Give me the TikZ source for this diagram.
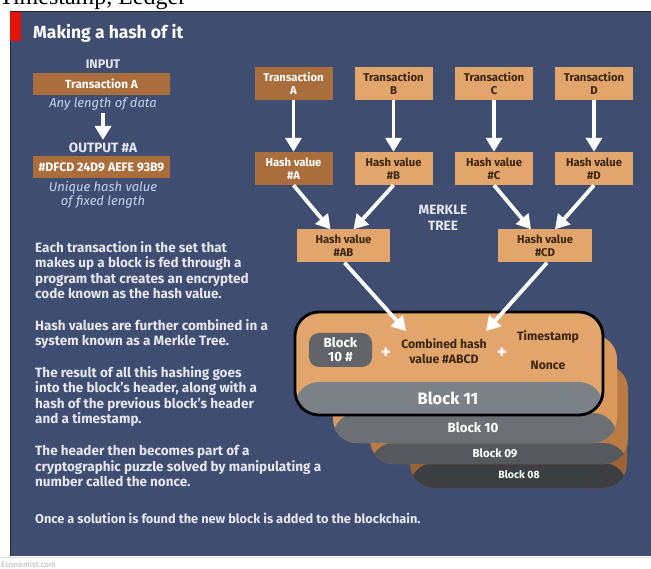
\documentclass[tikz,border=0pt]{standalone}
\usepackage{fontspec}
\setmainfont{Fira Sans}
\newfontfamily\headserif{Liberation Serif}
\usetikzlibrary{arrows.meta}
\definecolor{panel}{HTML}{3F4D70}
\definecolor{boxtan}{HTML}{E2A66C}
\definecolor{boxbrown}{HTML}{A96E3B}
\definecolor{boxink}{HTML}{3B2410}
\definecolor{paletext}{HTML}{E4E7EF}
\definecolor{italblue}{HTML}{C7D3EE}
\definecolor{econred}{HTML}{E3120B}
\definecolor{hashgrey}{HTML}{606367}
\definecolor{top08}{HTML}{9C6436}
\definecolor{top09}{HTML}{BA7A43}
\definecolor{top10}{HTML}{DA9A5E}
\definecolor{band08}{HTML}{3C3E42}
\definecolor{band09}{HTML}{55585D}
\definecolor{band10}{HTML}{6C7074}
\definecolor{band11}{HTML}{7C8087}
\begin{document}
\begin{tikzpicture}[x=1pt,y=-1pt,
  tbox/.style={fill=boxtan,text=boxink,font=\bfseries\fontsize{11.3}{12.8}\selectfont,align=center,inner sep=0pt,minimum width=78pt,minimum height=33pt},
  dbox/.style={tbox,fill=boxbrown,text=white},
  wbox/.style={fill=boxbrown,text=white,font=\bfseries\fontsize{11.8}{12}\selectfont,inner sep=0pt,minimum width=137pt,minimum height=22pt},
  warrow/.style={white,line width=3.8pt,-{Triangle[width=16pt,length=14pt]}},
  lbl/.style={inner sep=0pt,text=paletext,font=\bfseries\fontsize{12.5}{13}\selectfont},
  ital/.style={inner sep=0pt,text=italblue,align=center,font=\itshape\fontsize{13}{13.5}\selectfont},
  para/.style={anchor=north west,inner sep=0pt,align=left,text=paletext,font=\bfseries\fontsize{13.5}{15.6}\selectfont},
  blk/.style={rounded corners=24pt,inner sep=0pt},
  band/.style 2 args={path picture={\fill[#1] ([yshift=#2]path picture bounding box.south west) rectangle (path picture bounding box.south east);}},
  blklbl/.style={inner sep=0pt,text=white,font=\bfseries\fontsize{11.5}{12}\selectfont}]
  \useasboundingbox (0,0) rectangle (651,569);
  % page, panel and heading
  \fill[white] (0,0) rectangle (651,569);
  \node[anchor=base west,inner sep=0pt,font=\headserif\fontsize{24}{24}\selectfont] (crop) at (-1,5) {Timestamp, Ledger};
  \fill[panel] (10,11) rectangle (651,556);
  \draw[black!85,line width=0.8pt] (10,556) -- (10,11) -- (651,11);
  \draw[gray!25,line width=1.2pt] (0,557.5) -- (651,557.5);
  \fill[econred] (10,12) rectangle (21,41);
  \node[anchor=base west,inner sep=0pt,text=white,font=\bfseries\fontsize{17.5}{18}\selectfont] (title) at (33,39) {Making a hash of it};
  \node[anchor=base west,inner sep=0pt,text=gray!60,font=\fontsize{8}{8}\selectfont] (src) at (1,567) {Economist.com};

  % input / output
  \node[lbl] (inp) at (103,64) {INPUT};
  \node[wbox] (txa) at (101.5,84) {Transaction A};
  \node[ital] (anyl) at (103,104) {Any length of data};
  \node[lbl,font=\bfseries\fontsize{13.5}{14}\selectfont] (outp) at (103,148) {OUTPUT \#A};
  \node[wbox,font=\bfseries\fontsize{12.3}{12}\selectfont] (hexa) at (101.5,167.5) {\#DFCD 24D9 AEFE 93B9};
  \node[ital] (uniq) at (103,195) {Unique hash value\\of fixed length};
  \draw[warrow] ([yshift=-3pt]anyl.south) -- ([yshift=3pt]outp.north);

  % merkle tree
  \node[dbox] (tA) at (293.5,83.5) {Transaction\\A};
  \node[tbox] (tB) at (393.5,83.5) {Transaction\\B};
  \node[tbox] (tC) at (494,83.5) {Transaction\\C};
  \node[tbox] (tD) at (594,83.5) {Transaction\\D};
  \node[dbox] (hA) at (293.5,168.5) {Hash value\\\#A};
  \node[tbox] (hB) at (393.5,168.5) {Hash value\\\#B};
  \node[tbox] (hC) at (494,168.5) {Hash value\\\#C};
  \node[tbox] (hD) at (594,168.5) {Hash value\\\#D};
  \node[tbox,minimum width=93pt,minimum height=33pt] (hAB) at (343.5,246) {Hash value\\\#AB};
  \node[tbox,minimum width=94pt,minimum height=33pt] (hCD) at (545,246) {Hash value\\\#CD};
  \node[lbl,align=center,font=\bfseries\fontsize{13.5}{15.5}\selectfont] (merkle) at (443,218) {MERKLE\\TREE};
  \draw[warrow] (tA) -- (hA);
  \draw[warrow] (tB) -- (hB);
  \draw[warrow] (tC) -- (hC);
  \draw[warrow] (tD) -- (hD);
  \draw[warrow] (hA.south) -- ([xshift=-13pt]hAB.north);
  \draw[warrow] (hB.south) -- ([xshift=10pt]hAB.north);
  \draw[warrow] (hC.south) -- ([xshift=-14pt]hCD.north);
  \draw[warrow] (hD.south) -- ([xshift=10pt]hCD.north);

  % block stack, back to front
  \node[blk,fill=top08,minimum width=217pt,minimum height=93pt,band={band08}{25pt}] (b08) at (518.5,441.5) {};
  \node[blk,fill=top09,minimum width=258pt,minimum height=99pt,band={band09}{21pt}] (b09) at (499,414.5) {};
  \node[blk,fill=top10,minimum width=284pt,minimum height=108pt,band={band10}{30pt}] (b10) at (475,389) {};
  \node[blk,fill=boxtan,minimum width=308pt,minimum height=103pt,band={band11}{33pt},draw=black,line width=2.8pt] (b11) at (449,363.5) {};
  \node[blklbl,font=\bfseries\fontsize{10.5}{11}\selectfont] (l08) at (519,475) {Block 08};
  \node[blklbl] (l09) at (495,453) {Block 09};
  \node[blklbl,font=\bfseries\fontsize{13.3}{14}\selectfont] (l10) at (473,428) {Block 10};
  \node[blklbl,font=\bfseries\fontsize{16.5}{17}\selectfont] (l11) at (448,398) {Block 11};
  \node[rounded corners=10pt,fill=hashgrey,text=white,align=center,inner sep=0pt,minimum width=63pt,minimum height=34pt,font=\bfseries\fontsize{13.3}{14}\selectfont] (prev) at (340.5,350) {Block\\10 \#};
  \node[inner sep=0pt,text=white,font=\bfseries\fontsize{19}{19}\selectfont] (plus1) at (386,353) {+};
  \node[inner sep=0pt,text=boxink,align=center,font=\bfseries\fontsize{12.2}{15}\selectfont] (comb) at (444,351) {Combined hash\\value \#ABCD};
  \node[inner sep=0pt,text=white,font=\bfseries\fontsize{19}{19}\selectfont] (plus2) at (502,353) {+};
  \node[inner sep=0pt,text=boxink,font=\bfseries\fontsize{12.2}{13}\selectfont] (tstamp) at (548,337) {Timestamp};
  \node[inner sep=0pt,text=boxink,font=\bfseries\fontsize{12.2}{13}\selectfont] (nonce) at (548,365) {Nonce};
  \coordinate (inAB) at (406,331);
  \coordinate (inCD) at (486,331);
  \draw[warrow] ([xshift=1pt]hAB.south) -- (inAB);
  \draw[warrow] ([xshift=2pt]hCD.south) -- (inCD);

  % explanation
  \node[para] (p1) at (35,241) {Each transaction in the set that\\makes up a block is fed through a\\program that creates an encrypted\\code known as the hash value.};
  \node[para] (p2) at (35,319) {Hash values are further combined in a\\system known as a Merkle Tree.};
  \node[para] (p3) at (35,366) {The result of all this hashing goes\\into the block's header, along with a\\hash of the previous block's header\\and a timestamp.};
  \node[para] (p4) at (35,445) {The header then becomes part of a\\cryptographic puzzle solved by manipulating a\\number called the nonce.};
  \node[para,font=\bfseries\fontsize{12.8}{15.6}\selectfont] (p5) at (35,513) {Once a solution is found the new block is added to the blockchain.};
\end{tikzpicture}
\end{document}
